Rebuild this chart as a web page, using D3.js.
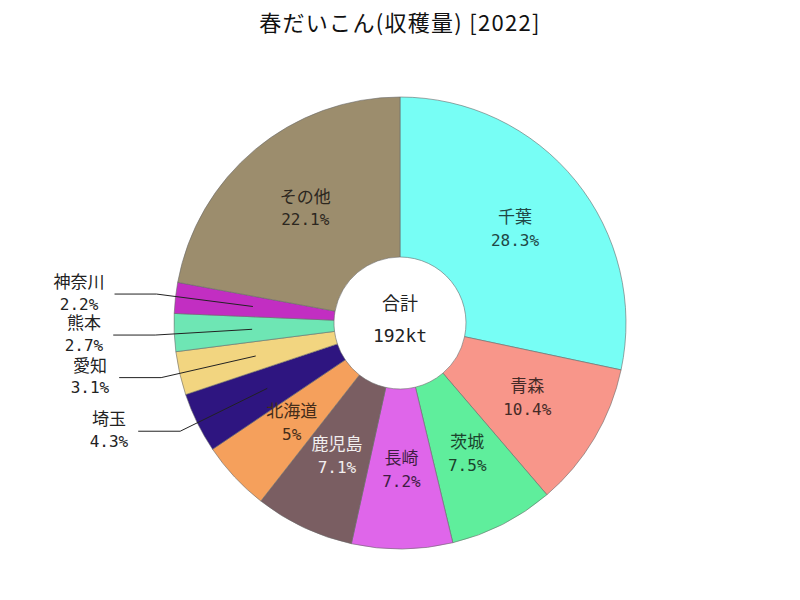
<!DOCTYPE html>
<html><head><meta charset="utf-8">
<script src="https://cdn.jsdelivr.net/npm/d3@7"></script>
<style>
body{margin:0;background:#fff;}
text{font-family:"DejaVu Sans Mono","Noto Sans CJK JP",monospace;}
</style></head>
<body>
<svg id="chart" width="800" height="600"></svg>
<script>
const title = "春だいこん(収穫量) [2022]";
const categories = ["千葉","青森","茨城","長崎","鹿児島","北海道","埼玉","愛知","熊本","神奈川","その他"];
const shares = [28.3,10.4,7.5,7.2,7.1,5,4.3,3.1,2.7,2.2,22.1];
const colors = ["#77FEF5","#F8968A","#5FEE9C","#DF66EA","#7A5E62","#F5A05C","#2E1580","#F2D580","#6EE6B4","#C22EC2","#9C8D6D"];
const totalLabel = ["合計","192kt"];

const W=800,H=600,cx=400,cy=323,R=226,r0=66,rLab=148,rElbow=245;
const svg=d3.select("#chart");
svg.append("rect").attr("width",W).attr("height",H).attr("fill","#fff");
svg.append("text").attr("x",400).attr("y",25).attr("text-anchor","middle").attr("dominant-baseline","middle")
  .style("font-family","'Noto Sans CJK JP',sans-serif").style("letter-spacing","1.3px")
  .attr("font-size",22).attr("fill","#111").text(title);

const data=categories.map((c,i)=>({name:c,value:shares[i],color:colors[i]}));
const pie=d3.pie().value(d=>d.value).sort(null);
const arcs=pie(data);
const arc=d3.arc().innerRadius(r0).outerRadius(R);
const g=svg.append("g").attr("transform",`translate(${cx},${cy})`);
g.selectAll("path").data(arcs).join("path").attr("d",arc).attr("fill",d=>d.data.color)
  .attr("stroke","#6a6a6a").attr("stroke-width",0.6);

function labelColor(c){
  const col=d3.rgb(c);
  const lum=(0.299*col.r+0.587*col.g+0.114*col.b)/255;
  if(lum>0.45) return d3.rgb(col.r*0.28,col.g*0.28,col.b*0.28).formatHex();
  return d3.interpolateRgb(c,"#fff")(0.9);
}
const pos=(rad,a)=>[rad*Math.sin(a),-rad*Math.cos(a)];

const inside=arcs.filter(d=>d.data.value>=4.5);
const outside=arcs.filter(d=>d.data.value<4.5);
inside.forEach(d=>{
  const m=(d.startAngle+d.endAngle)/2;
  const [x,y]=pos(rLab,m);
  const t=g.append("text").attr("text-anchor","middle").attr("font-size",16).attr("fill",labelColor(d.data.color));
  t.append("tspan").attr("x",x).attr("y",y-11.5).attr("font-size",17).attr("dominant-baseline","middle").text(d.data.name);
  t.append("tspan").attr("x",x).attr("y",y+11.5).attr("dominant-baseline","middle").text(d.data.value+"%");
});

// outside labels with spacing
const gap=41;
const items=outside.map(d=>{
  const m=(d.startAngle+d.endAngle)/2;
  const [ex,ey]=pos(rElbow,m);
  return {d,m,ex,ey};
}).sort((a,b)=>a.ey-b.ey);
for(let i=1;i<items.length;i++){
  if(items[i].ey-items[i-1].ey<gap){
    const diff=gap-(items[i].ey-items[i-1].ey);
    items[i-1].ey-=diff/2; items[i].ey+=diff/2;
  }
}
items.forEach(it=>{
  const [ix,iy]=pos(rLab,it.m);
  const lx=it.ex-42;
  g.append("polyline").attr("points",`${ix},${iy} ${it.ex},${it.ey} ${lx},${it.ey}`)
    .attr("fill","none").attr("stroke","#222").attr("stroke-width",1);
  const t=g.append("text").attr("text-anchor","middle").attr("font-size",16).attr("fill","#222");
  const a=t.append("tspan").attr("y",it.ey-11).attr("font-size",17).attr("dominant-baseline","middle").text(it.d.data.name);
  const b=t.append("tspan").attr("y",it.ey+11).attr("dominant-baseline","middle").text(it.d.data.value+"%");
  const w=Math.max(a.node().getComputedTextLength(),b.node().getComputedTextLength());
  const x=lx-10-w/2;
  a.attr("x",x); b.attr("x",x);
});

// center
g.append("text").attr("x",0).attr("y",-18).attr("text-anchor","middle").attr("dominant-baseline","middle")
  .attr("font-size",18).attr("fill","#222").style("font-family","'Noto Sans CJK JP',sans-serif").text(totalLabel[0]);
g.append("text").attr("x",0).attr("y",14).attr("text-anchor","middle").attr("dominant-baseline","middle")
  .attr("font-size",18).attr("fill","#222").text(totalLabel[1]);
</script>
</body></html>
